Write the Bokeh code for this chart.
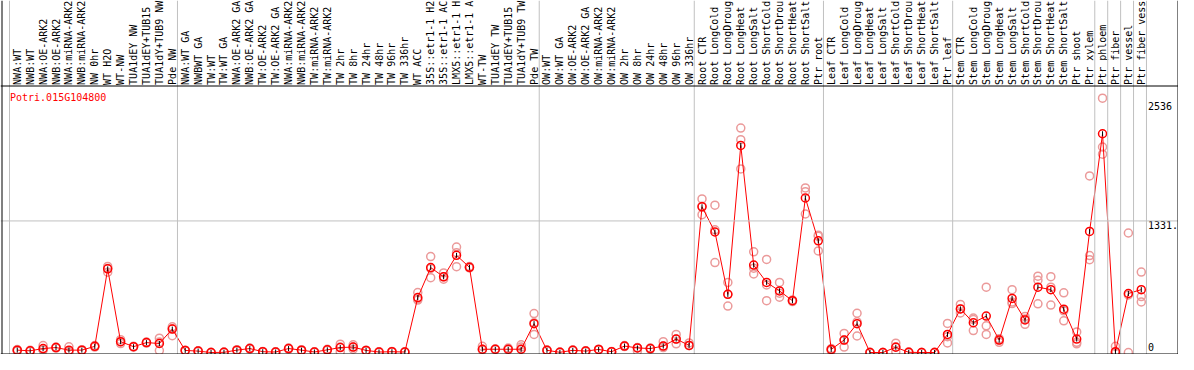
import math
from bokeh.plotting import figure
from bokeh.models import Range1d, Span, ColumnDataSource
from bokeh.core.properties import value
from bokeh.embed import file_html
from bokeh.resources import INLINE

gene_id = "Potri.015G104800"

# sample labels as shown in the header
samples = [
    "NWA:WT", "NWB:WT", "NWA:OE-ARK2", "NWB:OE-ARK2", "NWA:miRNA-ARK2", "NWB:miRNA-ARK2",
    "NW 0hr", "WT H2O", "WT-NW", "TUA1dEY NW", "TUA1dEY+TUB15", "TUA1dY+TUB9 NW", "Pde NW",
    "NWA:WT GA", "NWBWT GA", "TW:WT", "TW:WT GA", "NWA:OE-ARK2 GA", "NWB:OE-ARK2 GA",
    "TW:OE-ARK2", "TW:OE-ARK2 GA", "NWA:miRNA-ARK2", "NWB:miRNA-ARK2", "TW:miRNA-ARK2",
    "TW:miRNA-ARK2", "TW 2hr", "TW 8hr", "TW 24hr", "TW 48hr", "TW 96hr", "TW 336hr",
    "WT ACC", "35S::etr1-1 H2", "35S::etr1-1 AC", "LMX5::etr1-1 H", "LMX5::etr1-1 A",
    "WT-TW", "TUA1dEY TW", "TUA1dEY+TUB15", "TUA1dY+TUB9 TW", "Pde TW",
    "OW:WT", "OW:WT GA", "OW:OE-ARK2", "OW:OE-ARK2 GA", "OW:miRNA-ARK2", "OW:miRNA-ARK2",
    "OW 2hr", "OW 8hr", "OW 24hr", "OW 48hr", "OW 96hr", "OW 336hr",
    "Root CTR", "Root LongCold", "Root LongDroug", "Root LongHeat", "Root LongSalt",
    "Root ShortCold", "Root ShortDrou", "Root ShortHeat", "Root ShortSalt", "Ptr root",
    "Leaf CTR", "Leaf LongCold", "Leaf LongDroug", "Leaf LongHeat", "Leaf LongSalt",
    "Leaf ShortCold", "Leaf ShortDrou", "Leaf ShortHeat", "Leaf ShortSalt", "Ptr leaf",
    "Stem CTR", "Stem LongCold", "Stem LongDroug", "Stem LongHeat", "Stem LongSalt",
    "Stem ShortCold", "Stem ShortDrou", "Stem ShortHeat", "Stem ShortSalt", "Ptr shoot",
    "Ptr xylem", "Ptr phloem", "Ptr fiber", "Ptr vessel", "Ptr fiber vess",
]

means = [
    24, 17, 40, 50, 24, 24, 62, 846, 110, 59, 100, 91, 237,
    21, 14, 0, 2, 24, 40, 8, 5, 40, 24, 5, 27, 50, 55, 21, 5, 8, 5,
    556, 859, 766, 983, 862, 33, 33, 33, 33, 292,
    22, 2, 22, 14, 31, 8, 65, 46, 40, 65, 136, 72,
    1474, 1219, 588, 2095, 884, 709, 623, 524, 1563, 1130,
    31, 126, 292, 0, 0, 53, 2, 0, 0, 183,
    441, 301, 368, 126, 547, 330, 661, 636, 438, 136, 1225,
    2213, 8, 597, 636,
]

replicates = [
    [30, 15, 25], [17, 12, 22], [70, 25, 25], [50, 45, 55], [58, 10, 5], [24, 20, 28],
    [70, 55, 60], [871, 813, 850], [130, 90, 110], [59, 55, 62], [100, 95, 105],
    [145, 105, 20], [260, 170, 240],
    [21, 18, 24], [14, 10, 18], [0, 2, 0], [2, 0, 5], [24, 20, 28], [40, 35, 45],
    [8, 5, 10], [5, 2, 8], [40, 35, 45], [24, 20, 28], [5, 2, 8], [27, 22, 32],
    [84, 8, 55], [78, 33, 55], [21, 18, 24], [5, 2, 8], [8, 5, 10], [5, 2, 8],
    [607, 540, 530], [970, 757, 850], [805, 741, 766], [1066, 868, 1010], [862, 855, 870],
    [62, 33, 25], [33, 30, 36], [45, 30, 33], [78, 55, 33], [394, 183, 300],
    [22, 18, 26], [2, 0, 5], [24, 20, 26], [14, 10, 18], [31, 28, 34], [8, 5, 10],
    [65, 60, 70], [46, 14, 50], [40, 35, 45], [110, 50, 65], [183, 88, 136], [97, 72, 70],
    [1553, 1394, 1480], [1490, 1241, 910], [709, 470, 588], [2270, 2153, 1857],
    [1018, 795, 853], [942, 524, 684], [709, 559, 600], [530, 515, 524],
    [1665, 1627, 1401], [1187, 1028, 1175],
    [31, 20, 40], [193, 55, 126], [397, 167, 310], [0, 0, 2], [0, 0, 0],
    [94, 8, 57], [2, 0, 5], [0, 0, 0], [0, 0, 2], [294, 97, 160],
    [486, 441, 400], [348, 222, 333], [661, 270, 183], [126, 103, 140], [636, 495, 510],
    [365, 285, 340], [772, 731, 492], [767, 661, 480], [604, 422, 320], [208, 103, 88],
    [1786, 980, 939],
    [2573, 2079, 2006], [62, 0, 0], [1209, 0, 582], [814, 566, 511],
]

group_breaks = [0, 13, 41, 53, 63, 73, 84, 85, 86, 87, 88]
y_ticks = [0, 1331, 2536]
y_tick_labels = ["0", "1331.", "2536"]

# ---- pixel geometry (layout only) ----
W, H = 1178, 354
left_px = 9.0
colw = 12.92
zero_px = 352.0
sep_px = 85.5
s = (zero_px - 85.0) / 2701.0   # px per unit


def xd(px):
    return (px - left_px) / colw


def yd(px):
    return (zero_px - px) / s


p = figure(width=W, height=H, output_backend="svg", toolbar_location=None,
           x_range=Range1d(xd(0), xd(W)), y_range=Range1d(yd(H), yd(0)),
           x_axis_location=None, y_axis_location=None,
           min_border=0, min_border_left=0, min_border_right=0,
           min_border_top=0, min_border_bottom=0)
p.grid.visible = False
p.outline_line_color = None
p.background_fill_color = "white"
p.border_fill_color = "white"

mono = value("DejaVu Sans Mono")
grey = "#c0c0c0"

# group separators
for k in group_breaks:
    p.add_layout(Span(location=k, dimension="height", line_color=grey, line_width=1))

# horizontal gridline
p.add_layout(Span(location=y_ticks[1], dimension="width", line_color=grey, line_width=1))

# borders / header separator
p.add_layout(Span(location=yd(sep_px), dimension="width", line_color="black", line_width=1))
p.add_layout(Span(location=yd(353.5), dimension="width", line_color="black", line_width=1))
p.add_layout(Span(location=xd(1.5), dimension="height", line_color="black", line_width=1))
p.add_layout(Span(location=xd(W - 0.5), dimension="height", line_color="black", line_width=1))

xs = [i + 0.6 for i in range(len(samples))]

# header labels
p.text(x=xs, y=[yd(84.4)] * len(samples), text=samples, angle=math.pi / 2,
       text_align="left", text_baseline="middle", text_font=mono,
       text_font_size="10px", text_color="black")

# gene id
p.text(x=[xd(9.5)], y=[yd(97)], text=[gene_id], text_align="left",
       text_baseline="middle", text_font=mono, text_font_size="10px", text_color="red")

# y tick labels on right
tick_y = []
for v in y_ticks:
    if v == 0:
        tick_y.append(v + 5.5 / s)
    else:
        tick_y.append(v - 4.2 / s)
p.text(x=[xd(1147.5)] * len(y_ticks), y=tick_y, text=y_tick_labels, text_align="left",
       text_baseline="middle", text_font=mono, text_font_size="10px", text_color="black")

# replicates
rx, ry = [], []
for i, reps in enumerate(replicates):
    for r in reps:
        rx.append(xs[i])
        ry.append(r)
p.scatter(rx, ry, marker="circle", size=8, fill_alpha=0, line_color="#eb9a9a", line_width=1.5)

# mean line and points
src = ColumnDataSource(dict(x=xs, y=means))
p.line("x", "y", source=src, line_color="red", line_width=1)
p.scatter("x", "y", source=src, marker="circle", size=8, fill_alpha=0,
          line_color="red", line_width=1.5)
p.scatter("x", "y", source=src, marker="dash", angle=math.pi / 2, size=5,
          line_color="black", line_width=1)

open("out.html", "w").write(file_html(p, INLINE))
